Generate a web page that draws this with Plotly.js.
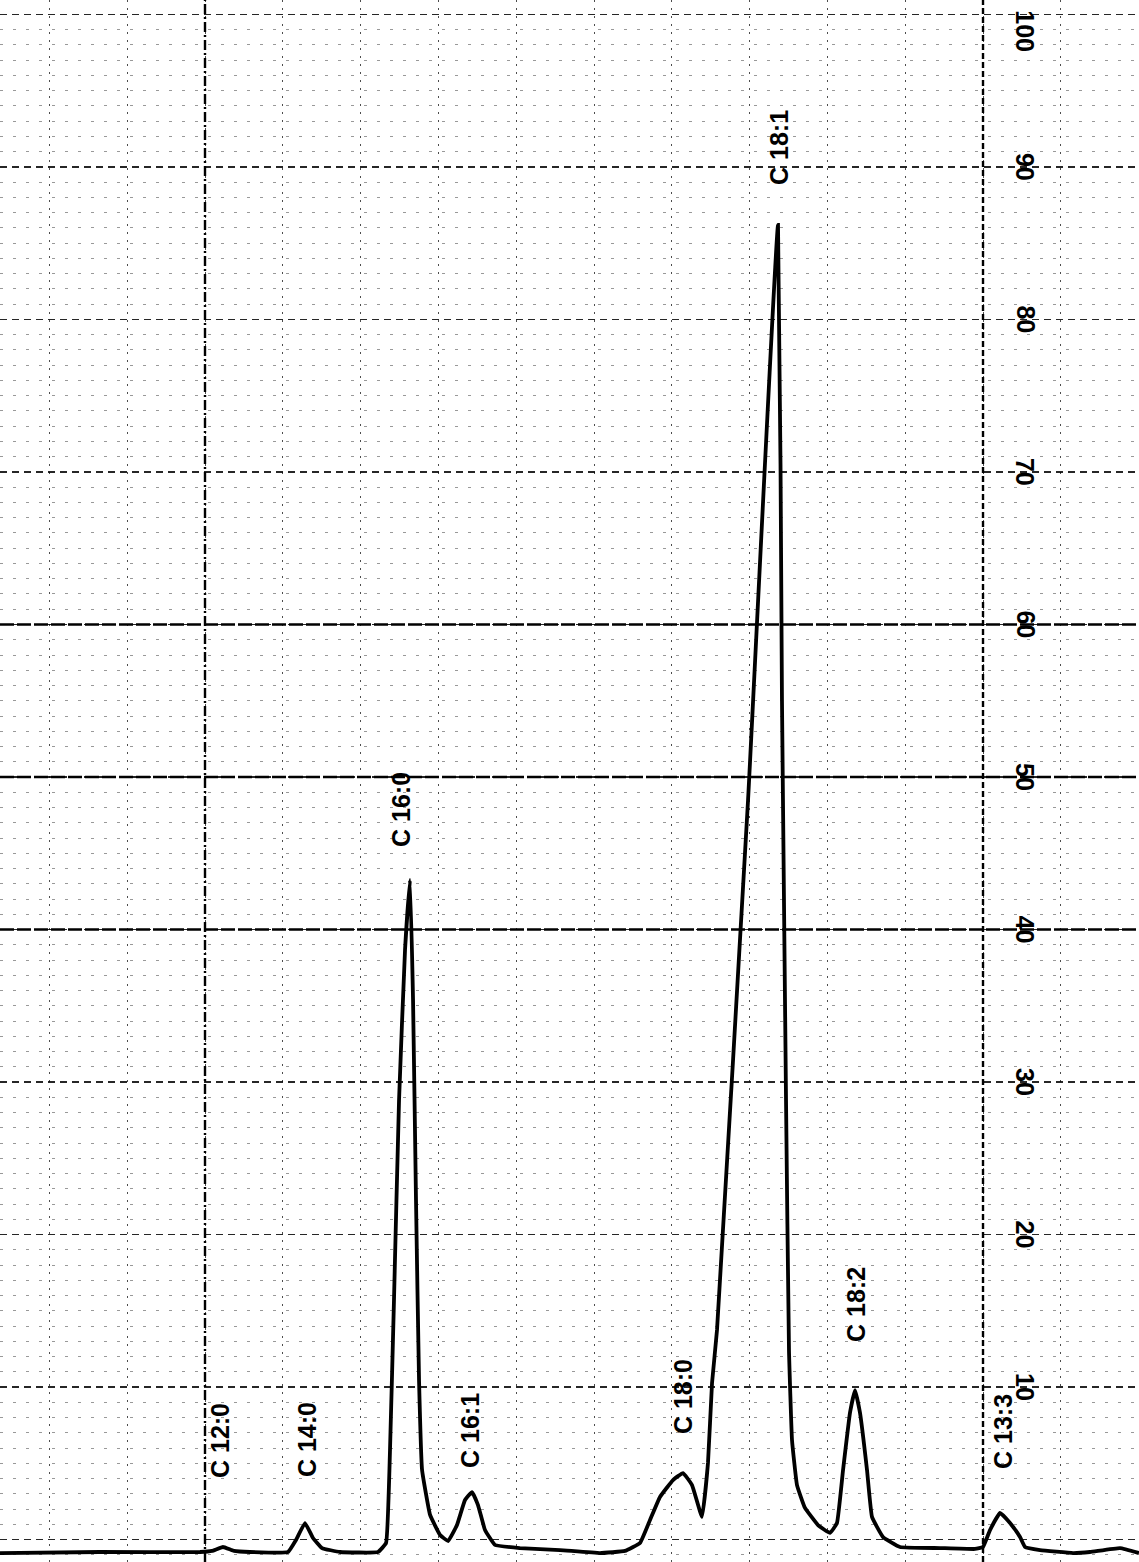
<!DOCTYPE html>
<html>
<head>
<meta charset="utf-8">
<script src="https://cdn.plot.ly/plotly-3.0.1.min.js"></script>
<style>
  html, body { margin: 0; padding: 0; background: #fff; }
  #chart { width: 1139px; height: 1562px; }
</style>
</head>
<body>
<div id="chart"></div>
<script>
// Detector trace (retention time in chart-grid units, response in chart-grid units)
const traceTime = [
  -0.635, 0.650, 1.936, 2.090, 2.231, 2.372, 2.578, 3.067, 3.170, 3.285,
  3.388, 3.504, 3.735, 4.224, 4.327, 4.378, 4.429, 4.494, 4.571, 4.635,
  4.674, 4.712, 4.751, 4.790, 4.893, 5.021, 5.124, 5.239, 5.342, 5.432,
  5.509, 5.599, 5.728, 6.049, 6.563, 7.077, 7.398, 7.591, 7.720, 7.848,
  8.015, 8.144, 8.260, 8.388, 8.465, 8.517, 8.581, 8.980, 9.365, 9.416,
  9.468, 9.506, 9.545, 9.609, 9.712, 9.879, 10.033, 10.123, 10.201, 10.290,
  10.355, 10.419, 10.509, 10.573, 10.715, 10.933, 11.447, 11.897, 12.000, 12.090,
  12.219, 12.347, 12.476, 12.540, 12.733, 13.157, 13.375, 13.761, 14.005
];
const traceResponse = [
  -0.89, -0.82, -0.82, -0.75, -0.49, -0.75, -0.82, -0.82, -0.03, 1.08,
  0.10, -0.56, -0.82, -0.82, -0.23, 5.87, 15.70, 28.82, 38.66, 43.25,
  35.38, 22.26, 10.46, 4.56, 1.61, 0.30, -0.10, 0.95, 2.59, 3.11,
  2.26, 0.62, -0.36, -0.56, -0.69, -0.89, -0.75, -0.23, 1.28, 2.79,
  3.90, 4.36, 3.57, 1.48, 5.02, 10.26, 13.74, 48.49, 86.20, 55.05,
  28.82, 12.43, 6.52, 3.57, 2.07, 0.95, 0.43, 1.08, 4.56, 8.30,
  9.80, 8.30, 4.56, 1.48, 0.16, -0.49, -0.56, -0.62, -0.49, 0.62,
  1.74, 1.08, 0.16, -0.49, -0.69, -0.89, -0.82, -0.56, -0.89
];

// Peak labels and where they are written on the chart
const peakLabels = ["C 12:0", "C 14:0", "C 16:0", "C 16:1", "C 18:0", "C 18:1", "C 18:2", "C 13:3"];
const peakLabelTime = [2.193, 3.311, 4.519, 5.406, 8.144, 9.378, 10.368, 12.257];
const peakLabelLevel = [6.46, 6.52, 47.90, 7.18, 9.34, 91.25, 15.38, 7.05];

// Scale numbers printed on the chart paper
const scaleValues = [10, 20, 30, 40, 50, 60, 70, 80, 90, 100];
const scaleTextTime = 12.54;

// Heavier printed rulings
const heavyLevels = [40, 50, 60];
const heavyTimes = [2, 12];

const xRange = [-0.635, 14.005];
const yRange = [-1.475, 100.95];

const data = [{
  type: 'scatter',
  mode: 'lines',
  x: traceTime,
  y: traceResponse,
  line: { color: '#000', width: 3.8, shape: 'spline', smoothing: 0.3 },
  hoverinfo: 'skip',
  showlegend: false
}];

const annotations = [];
peakLabels.forEach((t, i) => {
  annotations.push({
    x: peakLabelTime[i], y: peakLabelLevel[i], xref: 'x', yref: 'y',
    text: t, showarrow: false, textangle: -90,
    xanchor: 'center', yanchor: 'middle',
    font: { family: 'Liberation Sans, Arial, sans-serif', size: 25, color: '#000', weight: 'bold' }
  });
});
scaleValues.forEach(v => {
  annotations.push({
    x: scaleTextTime, y: Math.min(v, 98.9), xref: 'x', yref: 'y',
    text: String(v), showarrow: false, textangle: 90,
    xanchor: 'center', yanchor: 'middle',
    font: { family: 'Liberation Sans, Arial, sans-serif', size: 25, color: '#000', weight: 'bold' }
  });
});

const shapes = [];
heavyLevels.forEach(v => {
  shapes.push({ type: 'line', xref: 'paper', yref: 'y', x0: 0, x1: 1, y0: v, y1: v,
    line: { color: '#000', width: 2.4, dash: '14px,3px' }, layer: 'below' });
});
shapes.push({ type: 'line', xref: 'x', yref: 'paper', x0: heavyTimes[0], x1: heavyTimes[0], y0: 0, y1: 1,
  line: { color: '#000', width: 2.4, dash: '10px,3px,2px,3px' }, layer: 'below' });
shapes.push({ type: 'line', xref: 'x', yref: 'paper', x0: heavyTimes[1], x1: heavyTimes[1], y0: 0, y1: 1,
  line: { color: '#000', width: 2.4, dash: '6px,3px' }, layer: 'below' });

const layout = {
  width: 1139, height: 1562,
  margin: { l: 0, r: 0, t: 0, b: 0 },
  paper_bgcolor: '#fff', plot_bgcolor: '#fff',
  showlegend: false,
  xaxis: {
    range: xRange, tick0: 0, dtick: 1,
    showgrid: true, gridcolor: 'rgba(0,0,0,0.7)', gridwidth: 1, griddash: '2px,6px',
    zeroline: false, showline: false, showticklabels: false, ticks: '', fixedrange: true
  },
  yaxis: {
    range: yRange, tick0: 0, dtick: 10,
    showgrid: true, gridcolor: 'rgba(0,0,0,0.85)', gridwidth: 1.3, griddash: '7px,5px',
    minor: { dtick: 1, showgrid: true, gridcolor: 'rgba(0,0,0,0.4)', gridwidth: 1, griddash: '3px,10px' },
    zeroline: false, showline: false, showticklabels: false, ticks: '', fixedrange: true
  },
  annotations: annotations,
  shapes: shapes
};

Plotly.newPlot('chart', data, layout, { staticPlot: true, displayModeBar: false });
</script>
</body>
</html>
